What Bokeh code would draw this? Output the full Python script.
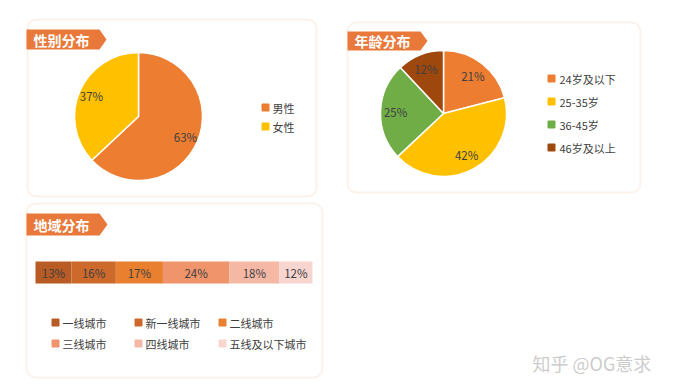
import numpy as np
from bokeh.plotting import figure
from bokeh.models import Range1d, BoxAnnotation, ColumnDataSource
from bokeh.core.properties import value
from bokeh.embed import file_html
from bokeh.resources import INLINE

# ---------------- data ----------------
gender_labels = ["男性", "女性"]
gender_values = [63, 37]
gender_colors = ["#ED7D31", "#FFC000"]

age_labels = ["24岁及以下", "25-35岁", "36-45岁", "46岁及以上"]
age_values = [21, 42, 25, 12]
age_colors = ["#ED7D31", "#FFC000", "#70AD47", "#9E480E"]

region_labels = ["一线城市", "新一线城市", "二线城市", "三线城市", "四线城市", "五线及以下城市"]
region_values = [13, 16, 17, 24, 18, 12]
region_colors = ["#B95B24", "#CC692B", "#E8802F", "#F0946B", "#F4B8A5", "#F8D5CF"]

titles = ["性别分布", "年龄分布", "地域分布"]
watermark = "知乎 @OG意求"

FONT = value("Noto Sans CJK SC")
TXT = "#404040"


def Y(v):
    return 392 - v


p = figure(width=669, height=384, output_backend="svg", toolbar_location=None,
           x_range=Range1d(0, 669), y_range=Range1d(8, 392),
           x_axis_type=None, y_axis_type=None, min_border=0,
           outline_line_color=None, background_fill_color="white",
           border_fill_color="white")
p.grid.visible = False

# panels
for l, r, t, b in [(27, 316, 19, 196), (347, 640, 22, 192), (26, 322, 203, 377)]:
    p.add_layout(BoxAnnotation(left=l, right=r, top=Y(t), bottom=Y(b),
                               fill_color="white", fill_alpha=1.0,
                               line_color="#EFD3BE", line_width=2,
                               border_radius=9, level="underlay"))

# title tags
tags = [(26, 99, 106, 29, 49), (347, 420, 427, 31, 50), (26, 99, 107, 213, 235)]
xs, ys = [], []
for x0, x1, tip, t, b in tags:
    xs.append([x0, x1, tip, x1, x0])
    ys.append([Y(t), Y(t), Y((t + b) / 2), Y(b), Y(b)])
p.patches(xs, ys, fill_color="#E9793A", line_color=None)
p.text(x=[x0 + 7 for x0, *_ in tags], y=[Y((t + b) / 2) for *_, t, b in tags],
       text=titles, text_color="white", text_font=FONT, text_font_size="14px",
       text_font_style="bold", text_baseline="middle", text_align="left")


def pie(values, colors, cx, cy, r, lf):
    fr = np.array(values, dtype=float) / sum(values)
    cum = np.concatenate([[0.0], np.cumsum(fr)])
    start = np.pi / 2 - 2 * np.pi * cum[:-1]
    end = np.pi / 2 - 2 * np.pi * cum[1:]
    mid = (start + end) / 2
    src = ColumnDataSource(dict(start=start, end=end, color=colors,
                                lx=cx + lf * r * np.cos(mid), ly=cy + lf * r * np.sin(mid),
                                lab=[f"{v}%" for v in values]))
    p.wedge(x=cx, y=cy, radius=r, start_angle="start", end_angle="end",
            direction="clock", fill_color="color", line_color="white",
            line_width=1.5, source=src)
    p.text(x="lx", y="ly", text="lab", source=src, text_color=TXT,
           text_font=FONT, text_font_size="11.5px", text_align="center",
           text_baseline="middle")


pie(gender_values, gender_colors, 138, Y(116), 64, 0.8)
pie(age_values, age_colors, 443, Y(113), 63, 0.76)

# pie legends
p.scatter(x=[265] * 2, y=[Y(107), Y(126)], marker="square", size=7,
          color=gender_colors)
p.text(x=[272] * 2, y=[Y(107), Y(126)], text=gender_labels, text_color=TXT,
       text_font=FONT, text_font_size="11px", text_baseline="middle")

ay = [Y(78), Y(101), Y(124), Y(147)]
p.scatter(x=[551] * 4, y=ay, marker="square", size=7, color=age_colors)
p.text(x=[559] * 4, y=ay, text=age_labels, text_color=TXT,
       text_font=FONT, text_font_size="11px", text_baseline="middle")

# stacked bar (0..100 mapped to px 35..312)
sc = 277 / 100.0
p.extra_x_ranges = {"bar": Range1d((0 - 35) / sc, (669 - 35) / sc)}
rv = np.array(region_values, dtype=float)
rc = np.concatenate([[0.0], np.cumsum(rv)])
bsrc = ColumnDataSource(dict(left=rc[:-1], right=rc[1:], color=region_colors,
                             mid=(rc[:-1] + rc[1:]) / 2,
                             lab=[f"{v}%" for v in region_values]))
p.hbar(y=Y(272), height=22, left="left", right="right", fill_color="color",
       line_color=None, source=bsrc, x_range_name="bar")
p.text(x="mid", y=Y(272), text="lab", source=bsrc, x_range_name="bar",
       text_color=TXT, text_font=FONT, text_font_size="11.5px",
       text_align="center", text_baseline="middle")

# bar legend
lx = [55, 138, 222, 55, 138, 222]
ly = [Y(322)] * 3 + [Y(343)] * 3
p.scatter(x=lx, y=ly, marker="square", size=7, color=region_colors)
p.text(x=[v + 7 for v in lx], y=ly, text=region_labels, text_color=TXT,
       text_font=FONT, text_font_size="11px", text_baseline="middle")

# watermark
p.text(x=[532], y=[Y(362)], text=[watermark], text_color="#a8a8a8",
       text_alpha=0.6, text_font=FONT, text_font_size="18px",
       text_baseline="middle")

open("out.html", "w").write(file_html(p, INLINE))
